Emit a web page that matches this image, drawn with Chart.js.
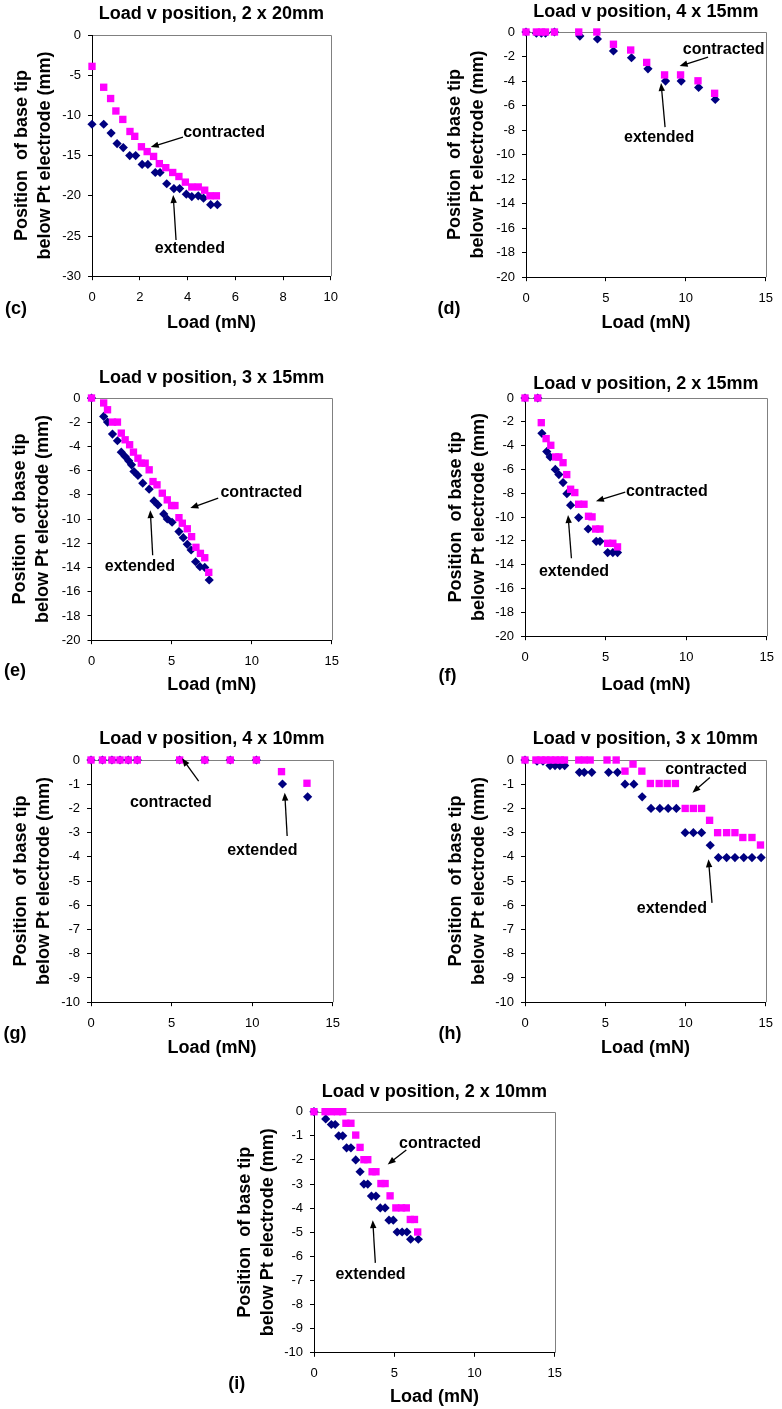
<!DOCTYPE html>
<html>
<head>
<meta charset="utf-8">
<script src="https://cdn.jsdelivr.net/npm/chart.js@4.4.1/dist/chart.umd.min.js"></script>
<style>
  html, body { margin: 0; padding: 0; background: #fff; }
  body { width: 782px; height: 1409px; position: relative; overflow: hidden; }
  canvas { position: absolute; }
  .tag { position: absolute; font: bold 18px 'Liberation Sans', Arial, sans-serif; transform: translate(-50%, -50%); color: #000; }
</style>
</head>
<body>
<script>
const FONT = "'Liberation Sans', Arial, sans-serif";

// tick labels
const ticks0to10by2 = [0, 2, 4, 6, 8, 10];
const ticks0to15by5 = [0, 5, 10, 15];
const ticksMinus30by5 = [-30, -25, -20, -15, -10, -5, 0];
const ticksMinus20by2 = [-20, -18, -16, -14, -12, -10, -8, -6, -4, -2, 0];
const ticksMinus10by1 = [-10, -9, -8, -7, -6, -5, -4, -3, -2, -1, 0];

// (c) 2 x 20mm
const cLoadContracted = [0, 0.49, 0.78, 1.0, 1.29, 1.59, 1.79, 2.07, 2.31, 2.58, 2.82, 3.09, 3.38, 3.64, 3.91, 4.18, 4.45, 4.72, 4.94, 5.21];
const cPosContracted  = [-3.9, -6.5, -7.9, -9.45, -10.5, -12.0, -12.6, -13.9, -14.5, -15.1, -16.0, -16.5, -17.1, -17.6, -18.3, -18.9, -18.9, -19.3, -20.0, -20.0];
const cLoadExtended   = [0, 0.49, 0.8, 1.05, 1.31, 1.58, 1.83, 2.1, 2.34, 2.65, 2.85, 3.13, 3.43, 3.67, 3.95, 4.18, 4.45, 4.67, 4.97, 5.25];
const cPosExtended    = [-11.1, -11.1, -12.2, -13.5, -14.0, -15.0, -15.0, -16.1, -16.1, -17.1, -17.1, -18.5, -19.1, -19.1, -19.8, -20.1, -20.0, -20.3, -21.1, -21.1];

// (d) 4 x 15mm
const dLoadContracted = [0, 0.65, 0.96, 1.22, 1.78, 3.3, 4.43, 5.47, 6.55, 7.55, 8.67, 9.67, 10.76, 11.8];
const dPosContracted  = [0, 0, 0, 0, 0, 0, 0, -1.0, -1.47, -2.48, -3.5, -3.5, -3.98, -5.0];
const dLoadExtended   = [0, 0.65, 0.96, 1.22, 1.78, 3.37, 4.47, 5.47, 6.6, 7.63, 8.73, 9.71, 10.8, 11.84];
const dPosExtended    = [0, -0.1, -0.1, -0.1, 0, -0.33, -0.57, -1.55, -2.1, -3.0, -4.0, -4.0, -4.52, -5.5];

// (e) 3 x 15mm
const eLoadContracted = [0, 0.76, 1.0, 1.31, 1.62, 1.86, 2.1, 2.38, 2.62, 2.9, 3.11, 3.35, 3.6, 3.84, 4.09, 4.42, 4.73, 5.0, 5.21, 5.46, 5.67, 5.98, 6.25, 6.52, 6.8, 7.07, 7.32];
const ePosContracted  = [0, -0.41, -0.97, -1.99, -1.99, -2.9, -3.45, -3.86, -4.47, -4.97, -5.38, -5.38, -5.93, -6.9, -7.17, -7.86, -8.41, -8.88, -8.88, -9.88, -10.34, -10.8, -11.45, -12.33, -12.83, -13.19, -14.4];
const eLoadExtended   = [0, 0.76, 1.0, 1.31, 1.62, 1.86, 2.1, 2.32, 2.5, 2.65, 2.9, 3.2, 3.6, 3.9, 4.15, 4.51, 4.73, 5.03, 5.46, 5.73, 5.98, 6.22, 6.5, 6.77, 7.07, 7.35];
const ePosExtended    = [0, -1.52, -1.99, -2.98, -3.53, -4.47, -4.83, -5.19, -5.52, -6.07, -6.4, -7.03, -7.53, -8.5, -8.83, -9.57, -9.99, -10.26, -11.03, -11.53, -12.08, -12.55, -13.52, -13.93, -13.99, -15.03];

// (f) 2 x 15mm
const fLoadContracted = [0, 0.79, 1.01, 1.31, 1.6, 1.9, 2.1, 2.36, 2.59, 2.83, 3.09, 3.33, 3.66, 3.94, 4.16, 4.38, 4.65, 5.13, 5.45, 5.74];
const fPosContracted  = [0, 0, -2.07, -3.41, -3.97, -4.95, -4.95, -5.43, -6.43, -7.66, -7.94, -8.92, -8.92, -9.93, -9.98, -11.0, -11.0, -12.2, -12.2, -12.5];
const fLoadExtended   = [0, 0.79, 1.05, 1.35, 1.56, 1.88, 2.1, 2.36, 2.6, 2.83, 3.33, 3.92, 4.42, 4.65, 5.13, 5.45, 5.74];
const fPosExtended    = [0, 0, -2.97, -4.5, -4.95, -6.0, -6.43, -7.1, -8.03, -9.0, -10.04, -11.0, -12.03, -12.03, -12.98, -12.98, -12.98];

// (g) 4 x 10mm
const gLoadContracted = [0, 0.71, 1.3, 1.8, 2.31, 2.87, 5.5, 7.06, 8.64, 10.26, 11.82, 13.4];
const gPosContracted  = [0, 0, 0, 0, 0, 0, 0, 0, 0, 0, -0.48, -0.96];
const gLoadExtended   = [0, 0.71, 1.3, 1.8, 2.31, 2.87, 5.5, 7.06, 8.64, 10.26, 11.88, 13.44];
const gPosExtended    = [0, 0, 0, 0, 0, 0, 0, 0, 0, 0, -0.99, -1.52];

// (h) 3 x 10mm
const hLoadContracted = [0, 0.68, 1.0, 1.3, 1.6, 1.9, 2.2, 2.46, 3.35, 3.69, 4.06, 5.11, 5.68, 6.23, 6.73, 7.28, 7.81, 8.36, 8.86, 9.37, 9.98, 10.49, 11.0, 11.5, 12.0, 12.56, 13.08, 13.57, 14.14, 14.67];
const hPosContracted  = [0, 0, 0, 0, 0, 0, 0, 0, 0, 0, 0, 0, 0, -0.46, -0.17, -0.46, -0.97, -0.97, -0.97, -0.97, -2.0, -2.0, -2.0, -2.49, -3.0, -3.0, -3.0, -3.2, -3.2, -3.51];
const hLoadExtended   = [0, 0.75, 1.12, 1.56, 1.87, 2.17, 2.47, 3.39, 3.69, 4.16, 5.21, 5.76, 6.23, 6.78, 7.3, 7.85, 8.4, 8.92, 9.43, 9.98, 10.49, 11.0, 11.54, 12.05, 12.56, 13.08, 13.63, 14.14, 14.71];
const hPosExtended    = [0, -0.05, -0.05, -0.23, -0.23, -0.23, -0.23, -0.51, -0.51, -0.51, -0.51, -0.51, -1.0, -1.0, -1.52, -2.0, -2.0, -2.0, -2.0, -3.0, -3.0, -3.0, -3.52, -4.03, -4.03, -4.03, -4.03, -4.03, -4.03];

// (i) 2 x 10mm
const iLoadContracted = [0, 0.69, 1.08, 1.46, 1.79, 1.99, 2.3, 2.6, 2.87, 3.11, 3.35, 3.62, 3.86, 4.17, 4.43, 4.74, 5.1, 5.45, 5.75, 6.0, 6.26, 6.46];
const iPosContracted  = [0, 0, 0, 0, 0, -0.48, -0.48, -0.97, -1.48, -1.99, -1.99, -2.49, -2.49, -2.98, -2.98, -3.49, -3.99, -3.99, -3.99, -4.47, -4.47, -4.99];
const iLoadExtended   = [0, 0.73, 1.08, 1.32, 1.54, 1.79, 2.03, 2.3, 2.6, 2.87, 3.11, 3.35, 3.58, 3.86, 4.13, 4.43, 4.67, 4.94, 5.18, 5.49, 5.79, 6.02, 6.5];
const iPosExtended    = [0, -0.3, -0.53, -0.53, -1.0, -1.0, -1.5, -1.5, -2.0, -2.49, -3.0, -3.0, -3.5, -3.5, -3.99, -3.99, -4.5, -4.5, -4.99, -4.99, -4.99, -5.29, -5.29];

// layout of each panel on the page (plot area edges, text centres) + annotation spots in data units
const panels = [
  { tag: '(c)', title: 'Load v position, 2 x 20mm', xt: ticks0to10by2, yt: ticksMinus30by5,
    con: [cLoadContracted, cPosContracted], ext: [cLoadExtended, cPosExtended],
    L: 92, R: 336, T: 35, B: 276, titleY: 14, xTitleY: 323, yTitleX: 22, tagAt: [16, 308],
    notes: [
      { text: 'contracted', at: [5.53, -12.08], from: [3.81, -12.7], to: [2.46, -13.94] },
      { text: 'extended', at: [4.1, -26.6], from: [3.52, -25.5], to: [3.4, -19.9] } ] },
  { tag: '(d)', title: 'Load v position, 4 x 15mm', xt: ticks0to15by5, yt: ticksMinus20by2,
    con: [dLoadContracted, dPosContracted], ext: [dLoadExtended, dPosExtended],
    L: 526, R: 771, T: 32, B: 277, titleY: 12, xTitleY: 323, yTitleX: 455, tagAt: [449, 308],
    notes: [
      { text: 'contracted', at: [12.37, -1.47], from: [11.39, -2.04], to: [9.61, -2.78] },
      { text: 'extended', at: [8.33, -8.65], from: [8.7, -7.76], to: [8.45, -4.16] } ] },
  { tag: '(e)', title: 'Load v position, 3 x 15mm', xt: ticks0to15by5, yt: ticksMinus20by2,
    con: [eLoadContracted, ePosContracted], ext: [eLoadExtended, ePosExtended],
    L: 91.5, R: 337, T: 398, B: 640, titleY: 378, xTitleY: 685, yTitleX: 20, tagAt: [15, 670],
    notes: [
      { text: 'contracted', at: [10.6, -7.85], from: [7.91, -8.26], to: [6.17, -9.09] },
      { text: 'extended', at: [3.02, -13.9], from: [3.82, -12.98], to: [3.67, -9.26] } ] },
  { tag: '(f)', title: 'Load v position, 2 x 15mm', xt: ticks0to15by5, yt: ticksMinus20by2,
    con: [fLoadContracted, fPosContracted], ext: [fLoadExtended, fPosExtended],
    L: 525, R: 772, T: 398, B: 636, titleY: 384, xTitleY: 685, yTitleX: 456, tagAt: [447.5, 675],
    notes: [
      { text: 'contracted', at: [8.8, -7.82], from: [6.22, -7.9], to: [4.4, -8.66] },
      { text: 'extended', at: [3.04, -14.54], from: [2.88, -13.45], to: [2.67, -9.83] } ] },
  { tag: '(g)', title: 'Load v position, 4 x 10mm', xt: ticks0to15by5, yt: ticksMinus10by1,
    con: [gLoadContracted, gPosContracted], ext: [gLoadExtended, gPosExtended],
    L: 91, R: 338, T: 760, B: 1002, titleY: 739, xTitleY: 1048, yTitleX: 21, tagAt: [15, 1033],
    notes: [
      { text: 'contracted', at: [4.95, -1.76], from: [6.68, -0.87], to: [5.65, 0.07] },
      { text: 'extended', at: [10.63, -3.75], from: [12.17, -3.14], to: [12.02, -1.35] } ] },
  { tag: '(h)', title: 'Load v position, 3 x 10mm', xt: ticks0to15by5, yt: ticksMinus10by1,
    con: [hLoadContracted, hPosContracted], ext: [hLoadExtended, hPosExtended],
    L: 525, R: 771, T: 760, B: 1002, titleY: 739, xTitleY: 1048, yTitleX: 456, tagAt: [450, 1033],
    notes: [
      { text: 'contracted', at: [11.28, -0.38], from: [11.52, -0.72], to: [10.43, -1.35] },
      { text: 'extended', at: [9.15, -6.13], from: [11.65, -5.9], to: [11.43, -4.1] } ] },
  { tag: '(i)', title: 'Load v position, 2 x 10mm', xt: ticks0to15by5, yt: ticksMinus10by1,
    con: [iLoadContracted, iPosContracted], ext: [iLoadExtended, iPosExtended],
    L: 314, R: 560, T: 1111.7, B: 1352.3, titleY: 1091.7, xTitleY: 1396.7, yTitleX: 245, tagAt: [236.7, 1383],
    notes: [
      { text: 'contracted', at: [7.85, -1.34], from: [5.75, -1.59], to: [4.59, -2.19] },
      { text: 'extended', at: [3.52, -6.76], from: [3.82, -6.27], to: [3.66, -4.5] } ] }
];

Chart.defaults.color = '#000';
Chart.defaults.font.family = FONT;

function toPoints(xs, ys) {
  return xs.map((x, i) => ({ x: x, y: ys[i] }));
}

// grey plot-area frame (top/right) and the arrow labels
function extrasPlugin(notes) {
  return {
    id: 'extras',
    beforeDraw(chart) {
      const { ctx, chartArea: a } = chart;
      ctx.save();
      ctx.strokeStyle = '#808080';
      ctx.lineWidth = 1;
      ctx.beginPath();
      ctx.moveTo(a.left, Math.round(a.top) + 0.5);
      ctx.lineTo(Math.round(a.right) + 0.5, Math.round(a.top) + 0.5);
      ctx.lineTo(Math.round(a.right) + 0.5, a.bottom);
      ctx.stroke();
      ctx.restore();
    },
    afterDatasetsDraw(chart) {
      const { ctx } = chart;
      const xs = chart.scales.x, ys = chart.scales.y;
      ctx.save();
      ctx.fillStyle = '#000';
      ctx.strokeStyle = '#000';
      ctx.lineWidth = 1.3;
      ctx.font = 'bold 16px ' + FONT;
      ctx.textAlign = 'center';
      ctx.textBaseline = 'middle';
      notes.forEach(n => {
        ctx.fillText(n.text, xs.getPixelForValue(n.at[0]), ys.getPixelForValue(n.at[1]));
        const x1 = xs.getPixelForValue(n.from[0]), y1 = ys.getPixelForValue(n.from[1]);
        const x2 = xs.getPixelForValue(n.to[0]), y2 = ys.getPixelForValue(n.to[1]);
        const ang = Math.atan2(y2 - y1, x2 - x1);
        const c = Math.cos(ang), s = Math.sin(ang);
        ctx.beginPath();
        ctx.moveTo(x1, y1);
        ctx.lineTo(x2 - 6 * c, y2 - 6 * s);
        ctx.stroke();
        ctx.beginPath();
        ctx.moveTo(x2, y2);
        ctx.lineTo(x2 - 8 * c + 3.2 * s, y2 - 8 * s - 3.2 * c);
        ctx.lineTo(x2 - 8 * c - 3.2 * s, y2 - 8 * s + 3.2 * c);
        ctx.closePath();
        ctx.fill();
      });
      ctx.restore();
    }
  };
}

const TITLE_SIZE = 18, TITLE_LH = 1.2;
const AXIS_SIZE = 18, AXIS_LH = 1.2, YT_LH = 1.28;

panels.forEach(p => {
  const lhT = TITLE_SIZE * TITLE_LH;
  const lhY = AXIS_SIZE * YT_LH;
  const lhX = AXIS_SIZE * AXIS_LH;

  const left = Math.floor(p.yTitleX - lhY / 2 - 4);
  const top = Math.floor(p.titleY - lhT / 2);
  const yTitlePad = p.yTitleX - lhY / 2 - left;
  const titlePadTop = p.titleY - lhT / 2 - top;
  const titlePadBottom = p.T - top - lhT - titlePadTop;
  const yWidth = p.L - left;
  const xHeight = p.xTitleY - p.B + lhX / 2 + 4;
  const rightPad = 11;
  const w = Math.round(p.R - left + rightPad);
  const h = Math.round(p.B + xHeight - top);

  const canvas = document.createElement('canvas');
  canvas.width = w;
  canvas.height = h;
  canvas.style.left = left + 'px';
  canvas.style.top = top + 'px';
  canvas.style.width = w + 'px';
  canvas.style.height = h + 'px';
  document.body.appendChild(canvas);

  const tag = document.createElement('div');
  tag.className = 'tag';
  tag.textContent = p.tag;
  tag.style.left = p.tagAt[0] + 'px';
  tag.style.top = p.tagAt[1] + 'px';
  document.body.appendChild(tag);

  const xt = p.xt, yt = p.yt;

  new Chart(canvas.getContext('2d'), {
    type: 'scatter',
    data: {
      datasets: [
        {
          label: 'contracted',
          data: toPoints(p.con[0], p.con[1]),
          pointStyle: 'rect',
          pointRadius: 5.2,
          backgroundColor: '#FF00FF',
          borderWidth: 0,
          clip: false
        },
        {
          label: 'extended',
          data: toPoints(p.ext[0], p.ext[1]),
          pointStyle: 'rectRot',
          pointRadius: 4.6,
          backgroundColor: '#000080',
          borderWidth: 0,
          clip: false
        }
      ]
    },
    options: {
      responsive: false,
      animation: false,
      events: [],
      layout: { padding: { left: 0, top: 0, right: rightPad, bottom: 0 } },
      plugins: {
        legend: { display: false },
        tooltip: { enabled: false },
        title: {
          display: true,
          text: p.title,
          fullSize: false,
          color: '#000',
          font: { size: TITLE_SIZE, weight: 'bold', family: FONT, lineHeight: TITLE_LH },
          padding: { top: titlePadTop, bottom: titlePadBottom }
        }
      },
      scales: {
        x: {
          type: 'linear',
          min: xt[0],
          max: xt[xt.length - 1],
          afterBuildTicks: s => { s.ticks = xt.map(v => ({ value: v })); },
          afterFit: s => { s.height = xHeight; },
          grid: { drawOnChartArea: false, drawTicks: true, tickLength: 4, tickColor: '#000' },
          border: { color: '#000', width: 1 },
          ticks: { font: { size: 13, family: FONT }, color: '#000', padding: 9, maxRotation: 0, autoSkip: false },
          title: {
            display: true,
            text: 'Load (mN)',
            color: '#000',
            font: { size: AXIS_SIZE, weight: 'bold', family: FONT, lineHeight: AXIS_LH },
            padding: { top: 0, bottom: 4 }
          }
        },
        y: {
          type: 'linear',
          min: yt[0],
          max: yt[yt.length - 1],
          afterBuildTicks: s => { s.ticks = yt.map(v => ({ value: v })); },
          afterFit: s => { s.width = yWidth; },
          grid: { drawOnChartArea: false, drawTicks: true, tickLength: 4, tickColor: '#000' },
          border: { color: '#000', width: 1 },
          ticks: { font: { size: 13, family: FONT }, color: '#000', padding: 7, autoSkip: false },
          title: {
            display: true,
            text: ['Position  of base tip', 'below Pt electrode (mm)'],
            color: '#000',
            font: { size: AXIS_SIZE, weight: 'bold', family: FONT, lineHeight: YT_LH },
            padding: { top: yTitlePad, bottom: 0 }
          }
        }
      }
    },
    plugins: [extrasPlugin(p.notes)]
  });
});
</script>
</body>
</html>
